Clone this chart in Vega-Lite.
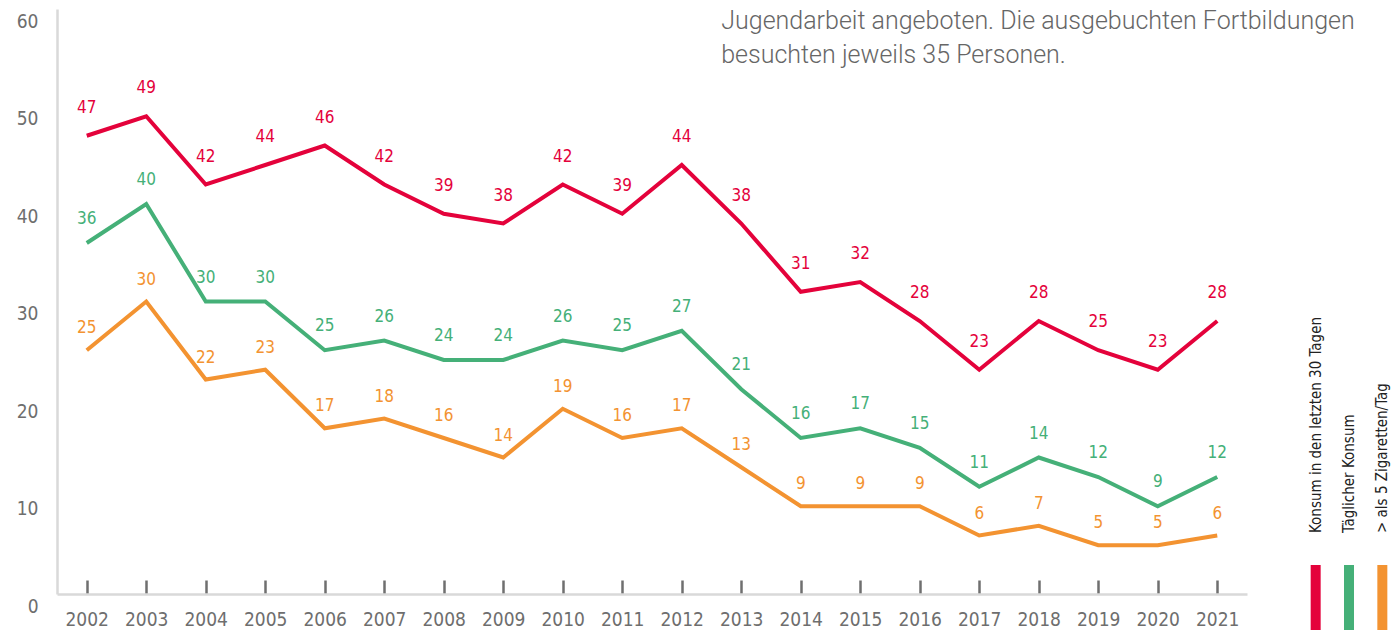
{
  "$schema": "https://vega.github.io/schema/vega-lite/v6.json",
  "padding": {"left": 0, "top": 9, "right": 0, "bottom": 0},
  "background": "white",
  "bounds": "flush",
  "config": {
    "view": {"stroke": null},
    "concat": {"spacing": 57},
    "font": "DejaVu Sans Condensed"
  },
  "datasets": {
    "main": [
      {"year": "2002", "series": "Konsum in den letzten 30 Tagen", "value": 47},
      {"year": "2003", "series": "Konsum in den letzten 30 Tagen", "value": 49},
      {"year": "2004", "series": "Konsum in den letzten 30 Tagen", "value": 42},
      {"year": "2005", "series": "Konsum in den letzten 30 Tagen", "value": 44},
      {"year": "2006", "series": "Konsum in den letzten 30 Tagen", "value": 46},
      {"year": "2007", "series": "Konsum in den letzten 30 Tagen", "value": 42},
      {"year": "2008", "series": "Konsum in den letzten 30 Tagen", "value": 39},
      {"year": "2009", "series": "Konsum in den letzten 30 Tagen", "value": 38},
      {"year": "2010", "series": "Konsum in den letzten 30 Tagen", "value": 42},
      {"year": "2011", "series": "Konsum in den letzten 30 Tagen", "value": 39},
      {"year": "2012", "series": "Konsum in den letzten 30 Tagen", "value": 44},
      {"year": "2013", "series": "Konsum in den letzten 30 Tagen", "value": 38},
      {"year": "2014", "series": "Konsum in den letzten 30 Tagen", "value": 31},
      {"year": "2015", "series": "Konsum in den letzten 30 Tagen", "value": 32},
      {"year": "2016", "series": "Konsum in den letzten 30 Tagen", "value": 28},
      {"year": "2017", "series": "Konsum in den letzten 30 Tagen", "value": 23},
      {"year": "2018", "series": "Konsum in den letzten 30 Tagen", "value": 28},
      {"year": "2019", "series": "Konsum in den letzten 30 Tagen", "value": 25},
      {"year": "2020", "series": "Konsum in den letzten 30 Tagen", "value": 23},
      {"year": "2021", "series": "Konsum in den letzten 30 Tagen", "value": 28},
      {"year": "2002", "series": "Täglicher Konsum", "value": 36},
      {"year": "2003", "series": "Täglicher Konsum", "value": 40},
      {"year": "2004", "series": "Täglicher Konsum", "value": 30},
      {"year": "2005", "series": "Täglicher Konsum", "value": 30},
      {"year": "2006", "series": "Täglicher Konsum", "value": 25},
      {"year": "2007", "series": "Täglicher Konsum", "value": 26},
      {"year": "2008", "series": "Täglicher Konsum", "value": 24},
      {"year": "2009", "series": "Täglicher Konsum", "value": 24},
      {"year": "2010", "series": "Täglicher Konsum", "value": 26},
      {"year": "2011", "series": "Täglicher Konsum", "value": 25},
      {"year": "2012", "series": "Täglicher Konsum", "value": 27},
      {"year": "2013", "series": "Täglicher Konsum", "value": 21},
      {"year": "2014", "series": "Täglicher Konsum", "value": 16},
      {"year": "2015", "series": "Täglicher Konsum", "value": 17},
      {"year": "2016", "series": "Täglicher Konsum", "value": 15},
      {"year": "2017", "series": "Täglicher Konsum", "value": 11},
      {"year": "2018", "series": "Täglicher Konsum", "value": 14},
      {"year": "2019", "series": "Täglicher Konsum", "value": 12},
      {"year": "2020", "series": "Täglicher Konsum", "value": 9},
      {"year": "2021", "series": "Täglicher Konsum", "value": 12},
      {"year": "2002", "series": "> als 5 Zigaretten/Tag", "value": 25},
      {"year": "2003", "series": "> als 5 Zigaretten/Tag", "value": 30},
      {"year": "2004", "series": "> als 5 Zigaretten/Tag", "value": 22},
      {"year": "2005", "series": "> als 5 Zigaretten/Tag", "value": 23},
      {"year": "2006", "series": "> als 5 Zigaretten/Tag", "value": 17},
      {"year": "2007", "series": "> als 5 Zigaretten/Tag", "value": 18},
      {"year": "2008", "series": "> als 5 Zigaretten/Tag", "value": 16},
      {"year": "2009", "series": "> als 5 Zigaretten/Tag", "value": 14},
      {"year": "2010", "series": "> als 5 Zigaretten/Tag", "value": 19},
      {"year": "2011", "series": "> als 5 Zigaretten/Tag", "value": 16},
      {"year": "2012", "series": "> als 5 Zigaretten/Tag", "value": 17},
      {"year": "2013", "series": "> als 5 Zigaretten/Tag", "value": 13},
      {"year": "2014", "series": "> als 5 Zigaretten/Tag", "value": 9},
      {"year": "2015", "series": "> als 5 Zigaretten/Tag", "value": 9},
      {"year": "2016", "series": "> als 5 Zigaretten/Tag", "value": 9},
      {"year": "2017", "series": "> als 5 Zigaretten/Tag", "value": 6},
      {"year": "2018", "series": "> als 5 Zigaretten/Tag", "value": 7},
      {"year": "2019", "series": "> als 5 Zigaretten/Tag", "value": 5},
      {"year": "2020", "series": "> als 5 Zigaretten/Tag", "value": 5},
      {"year": "2021", "series": "> als 5 Zigaretten/Tag", "value": 6}
    ],
    "legend": [
      {"series": "Konsum in den letzten 30 Tagen"},
      {"series": "Täglicher Konsum"},
      {"series": "> als 5 Zigaretten/Tag"}
    ],
    "note": [
      {"year": "2013", "text": "Jugendarbeit angeboten. Die ausgebuchten Fortbildungen\nbesuchten jeweils 35 Personen."}
    ]
  },
  "hconcat": [
    {
      "width": 1190,
      "height": 585,
      "layer": [
        {
          "data": {"name": "main"},
          "encoding": {
            "x": {
              "field": "year",
              "type": "ordinal",
              "scale": {"type": "point", "padding": 0.5},
              "axis": {
                "title": null,
                "labelAngle": 0,
                "domainColor": "#d9d9d9",
                "domainWidth": 2.5,
                "tickColor": "#6f6f6f",
                "tickWidth": 2.5,
                "tickSize": -14,
                "labelPadding": 30,
                "labelBaseline": "top",
                "labelFont": "DejaVu Sans Condensed",
                "labelFontSize": 19,
                "labelColor": "#6e6e6e",
                "grid": false
              }
            },
            "y": {
              "field": "value",
              "type": "quantitative",
              "scale": {"domain": [0, 60], "nice": false, "zero": true},
              "axis": {
                "title": null,
                "values": [0, 10, 20, 30, 40, 50, 60],
                "domainColor": "#d9d9d9",
                "domainWidth": 2.5,
                "ticks": false,
                "grid": false,
                "labelPadding": 19,
                "labelOffset": 12,
                "labelFont": "DejaVu Sans Condensed",
                "labelFontSize": 19,
                "labelColor": "#6e6e6e",
                "minExtent": 57,
                "maxExtent": 57
              }
            },
            "color": {
              "field": "series",
              "type": "nominal",
              "scale": {
                "domain": ["Konsum in den letzten 30 Tagen", "Täglicher Konsum", "> als 5 Zigaretten/Tag"],
                "range": ["#e4023b", "#45b078", "#f39331"]
              },
              "legend": null
            }
          },
          "layer": [
            {
              "mark": {"type": "line", "strokeWidth": 4, "strokeJoin": "miter", "strokeCap": "butt"}
            },
            {
              "transform": [{"filter": "datum.series === 'Konsum in den letzten 30 Tagen'"}],
              "mark": {"type": "text", "dy": -28, "baseline": "middle", "font": "DejaVu Sans Condensed", "fontSize": 17},
              "encoding": {"text": {"field": "value", "type": "quantitative"}}
            },
            {
              "transform": [{"filter": "datum.series === 'Täglicher Konsum'"}],
              "mark": {"type": "text", "dy": -24, "baseline": "middle", "font": "DejaVu Sans Condensed", "fontSize": 17},
              "encoding": {"text": {"field": "value", "type": "quantitative"}}
            },
            {
              "transform": [{"filter": "datum.series === '> als 5 Zigaretten/Tag'"}],
              "mark": {"type": "text", "dy": -22, "baseline": "middle", "font": "DejaVu Sans Condensed", "fontSize": 17},
              "encoding": {"text": {"field": "value", "type": "quantitative"}}
            }
          ]
        },
        {
          "data": {"name": "note"},
          "mark": {
            "type": "text",
            "align": "left",
            "baseline": "alphabetic",
            "dx": -20,
            "font": "Roboto",
            "fontWeight": 300,
            "fontSize": 25,
            "lineHeight": 34,
            "lineBreak": "\n",
            "color": "#666666"
          },
          "encoding": {
            "x": {"field": "year", "type": "ordinal"},
            "y": {"datum": 57.9, "type": "quantitative"},
            "text": {"field": "text", "type": "nominal"}
          }
        }
      ]
    },
    {
      "spacing": 27,
      "vconcat": [
        {
          "width": 90,
          "height": 524,
          "data": {"name": "legend"},
          "mark": {
            "type": "text",
            "angle": 270,
            "align": "left",
            "baseline": "middle",
            "y": "height",
            "font": "DejaVu Sans Condensed",
            "fontSize": 15,
            "color": "#222222"
          },
          "encoding": {
            "x": {
              "field": "series",
              "type": "nominal",
              "sort": null,
              "scale": {"type": "point", "padding": 0.35},
              "axis": null
            },
            "text": {"field": "series", "type": "nominal"}
          }
        },
        {
          "width": 90,
          "height": 68,
          "data": {"name": "legend"},
          "mark": {"type": "rule", "strokeWidth": 10, "strokeCap": "butt"},
          "encoding": {
            "x": {
              "field": "series",
              "type": "nominal",
              "sort": null,
              "scale": {"type": "point", "padding": 0.35},
              "axis": null
            },
            "color": {
              "field": "series",
              "type": "nominal",
              "scale": {
                "domain": ["Konsum in den letzten 30 Tagen", "Täglicher Konsum", "> als 5 Zigaretten/Tag"],
                "range": ["#e4023b", "#45b078", "#f39331"]
              },
              "legend": null
            }
          }
        }
      ]
    }
  ]
}
